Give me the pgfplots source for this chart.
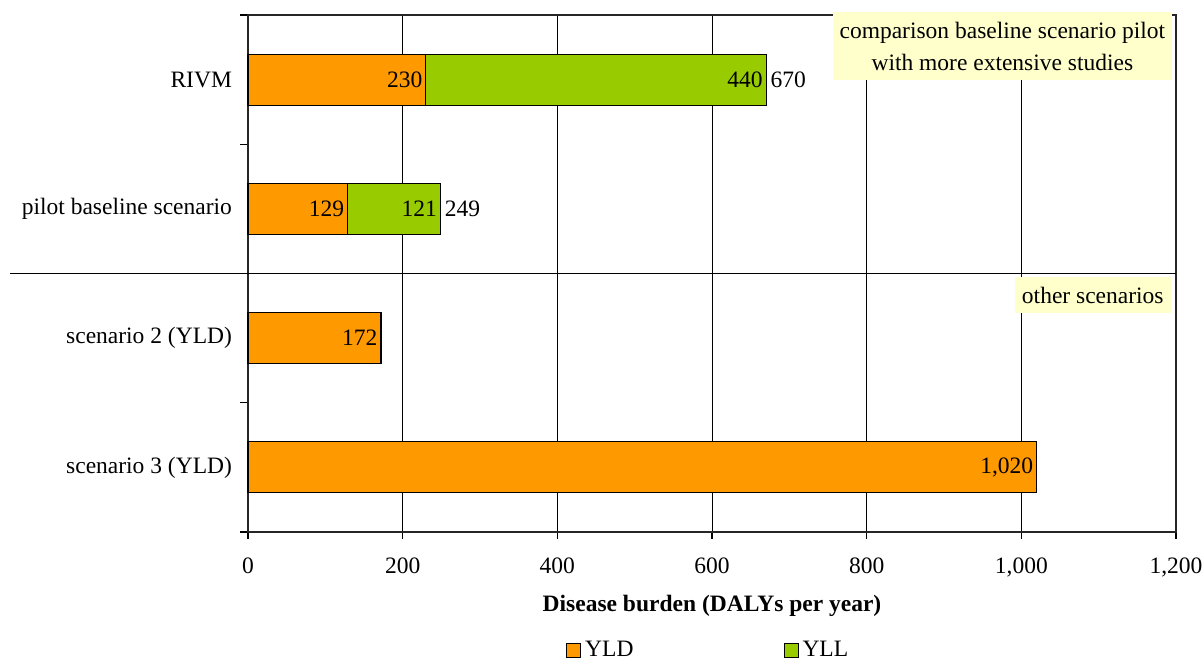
\documentclass[border=0pt]{standalone}
\usepackage{pgfplots}
\pgfplotsset{compat=1.18}
\usepackage{pgfplotstable}
\usepackage{fontspec}
\setmainfont{Liberation Serif}
\definecolor{yld}{HTML}{FF9900}
\definecolor{yll}{HTML}{99CC00}
\definecolor{note}{HTML}{FFFFCC}

% YLD per scenario
\pgfplotstableread{
y v
3 230
2 129
1 172
0 1020
}\yldtable
% YLL with total (YLD+YLL) as bar end
\pgfplotstableread{
y yll total
3 440 670
2 121 249
}\ylltable

\begin{document}
\begin{tikzpicture}[font=\fontsize{11.75}{14}\selectfont]
\begin{axis}[
  name=ax,
  scale only axis, width=464pt, height=258.5pt,
  xbar, bar width=25.5pt,
  xmin=0, xmax=1200, ymin=-0.5, ymax=3.5,
  clip=false,
  axis line style={line width=0.7pt, black!85},
  xtick={0,200,...,1200},
  xtick pos=bottom, ytick pos=left,
  xmajorgrids, grid style={black, line width=0.5pt},
  ytick={0,1,2,3},
  yticklabels={scenario 3 (YLD), scenario 2 (YLD), pilot baseline scenario, RIVM},
  major y tick style={draw=none},
  minor ytick={-0.5,0.5,1.5,2.5,3.5},
  minor y tick style={line width=0.6pt, black},
  major x tick style={line width=0.6pt, black},
  tick align=outside, major tick length=3.5pt, minor tick length=4pt,
  xticklabel style={yshift=-6pt},
  yticklabel style={xshift=-1pt},
  /pgf/number format/assume math mode=true,
  /pgf/number format/1000 sep={,},
  xlabel={\textbf{Disease burden (DALYs per year)}},
  xlabel style={yshift=-2pt},
  legend style={at={(0.497,-0.195)}, anchor=north, legend columns=2, draw=none,
    /tikz/every even column/.append style={column sep=73pt},
    font=\fontsize{11.75}{14}\selectfont},
  legend image code/.code={\draw[#1, draw=black, line width=0.5pt] (0pt,-3.5pt) rectangle (7pt,3.5pt);},
  nodes near coords style={font=\fontsize{11.75}{14}\selectfont, text=black},
]
% green bar drawn to the total, orange YLD bar drawn over its left part
\addplot[fill=yll, draw=black, line width=0.6pt, bar shift=0pt, forget plot,
  point meta=explicit,
  nodes near coords={\pgfmathprintnumber{\pgfplotspointmeta}},
  nodes near coords style={anchor=east, inner sep=1.5pt}]
  table[x=total, y=y, meta=yll] {\ylltable};
\addplot[draw=none, fill=none, bar shift=0pt, forget plot,
  point meta=explicit,
  nodes near coords={\pgfmathprintnumber{\pgfplotspointmeta}},
  nodes near coords style={anchor=west, inner sep=2pt}]
  table[x=total, y=y, meta=total] {\ylltable};
\addplot[fill=yld, draw=black, line width=0.6pt, bar shift=0pt,
  point meta=explicit,
  nodes near coords={\pgfmathprintnumber{\pgfplotspointmeta}},
  nodes near coords style={anchor=east, inner sep=1.5pt}]
  table[x=v, y=y, meta=v] {\yldtable};
\addlegendentry{YLD}
\addlegendimage{fill=yll}
\addlegendentry{YLL}
\draw[line width=0.6pt, black] ([xshift=-119pt]axis cs:0,1.5) -- (axis cs:1200,1.5);
\node[fill=note, anchor=north east, align=center, inner xsep=2.5pt, minimum width=169.5pt, minimum height=34pt]
  at (rel axis cs:0.996,1.006) {comparison baseline scenario pilot\\[2pt]with more extensive studies};
\node[fill=note, anchor=north east, align=center, inner xsep=3.5pt, minimum height=18pt]
  at (rel axis cs:0.9946,0.4932) {other scenarios};
\end{axis}
\pgfresetboundingbox
\path[use as bounding box] ([xshift=-124pt,yshift=-64pt]ax.south west) rectangle ([xshift=13.5pt,yshift=7.5pt]ax.north east);
\end{tikzpicture}
\end{document}
